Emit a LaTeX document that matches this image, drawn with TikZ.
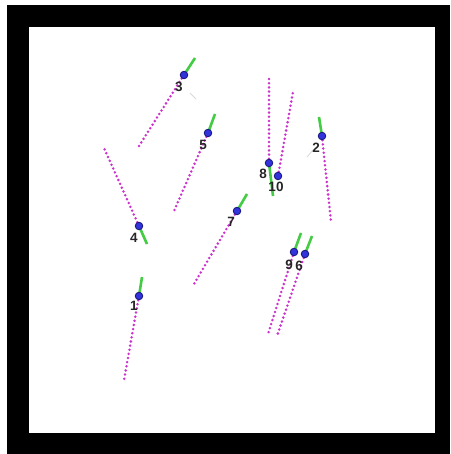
\documentclass[tikz,border=0pt]{standalone}
\usepackage{fontspec}
\setmainfont{Liberation Sans}
\usepackage{tikz}
\usetikzlibrary{positioning}
\definecolor{trailPink}{HTML}{CC33CC}
\definecolor{stemGreen}{HTML}{44CC44}
\definecolor{dotBlue}{HTML}{3333DD}
\definecolor{dotEdge}{HTML}{1A1A80}

\begin{document}
\begin{tikzpicture}[x=1pt, y=-1pt,
    dot/.style={
      circle, draw=dotEdge, fill=dotBlue, line width=0.9pt,
      inner sep=0pt, minimum size=7.5pt
    },
    trail/.style={
      draw=trailPink, line width=2.8pt, line cap=round,
      dash pattern=on 0pt off 4.2pt
    },
    stem/.style={draw=stemGreen, line width=2.6pt},
    num/.style={font=\fontsize{13.5}{15}\selectfont\bfseries, text=black!85, inner sep=0pt}
  ]
  \useasboundingbox (0,0) rectangle (450,454);
  % cadre
  \fill[black] (7,5) rectangle (450,454);
  \fill[white] (29,27) rectangle (435,433);

  % traces faibles
  \draw[black!15, line width=0.8pt] (307,157) -- (313,150);
  \draw[black!15, line width=0.8pt] (190,93) -- (196,99);

  % points, tiges et traînées
  \foreach \i/\px/\py/\gx/\gy/\mx/\my/\lx/\ly in {
      1/139/296/142/277/124/380/134/306,
      2/322/136/319/117/331/222/316/148,
      3/184/75/195/58/139/146/179/87,
      4/139/226/147/244/104/148/134/238,
      5/208/133/215/114/174/211/203/145,
      6/305/254/312/236/277/336/299/266,
      7/237/211/247/194/194/284/231/222,
      8/269/163/273/196/269/76/263/174,
      9/294/252/301/233/268/334/289/265} {
    \coordinate (g\i) at (\gx,\gy);
    \coordinate (m\i) at (\mx,\my);
    \coordinate (c\i) at (\px,\py);
    \draw[trail] (c\i) -- (m\i);
    \draw[stem] (c\i) -- (g\i);
    \node[dot] (p\i) at (c\i) {};
    \node[num] (n\i) at (\lx,\ly) {\i};
  }
  % le 10 n'a pas de tige visible
  \coordinate (m10) at (293,92);
  \coordinate (c10) at (278,176);
  \draw[trail] (c10) -- (m10);
  \node[dot] (p10) at (c10) {};
  \node[num] (n10) at (276,187) {10};
\end{tikzpicture}
\end{document}
